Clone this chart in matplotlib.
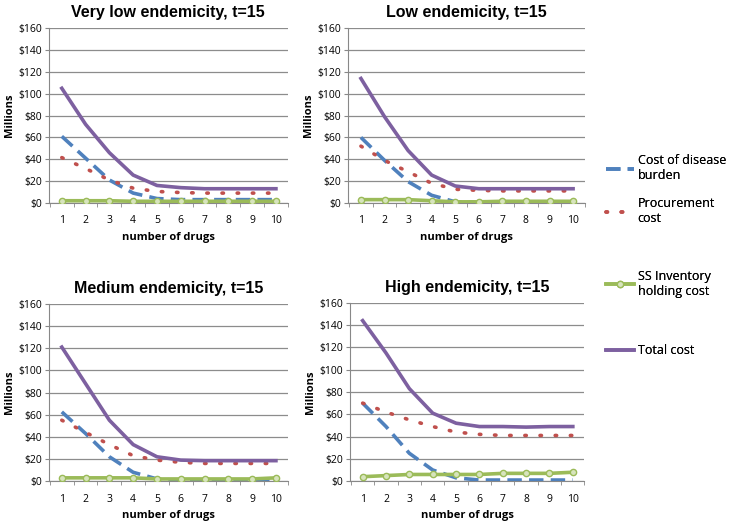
import matplotlib.pyplot as plt
import numpy as np

plt.rcParams['font.family'] = ['Open Sans', 'DejaVu Sans']

drugs = [1, 2, 3, 4, 5, 6, 7, 8, 9, 10]

titles = ['Very low endemicity, t=15', 'Low endemicity, t=15',
          'Medium endemicity, t=15', 'High endemicity, t=15']

# values in $ millions
disease = [
    [61, 41, 21, 9, 4, 3, 3, 3, 3, 3],
    [60, 39, 19.5, 7, 1, 0.5, 0.5, 0.5, 0.5, 0.5],
    [62.5, 43, 22, 8, 2, 0.5, 0.5, 0.5, 0.5, 0.5],
    [70, 49, 25, 10, 3, 1, 1, 1, 1, 1],
]
procurement = [
    [41.5, 31.5, 21, 13.5, 10.5, 9.5, 9, 9, 9, 9],
    [52, 39, 28.5, 18, 12.5, 11.5, 11, 11, 11, 11],
    [55, 44, 33, 23, 19, 17, 16, 16, 16, 16],
    [70, 62, 55, 49, 44, 42, 41, 41, 41, 41],
]
inventory = [
    [2, 2, 2, 1.5, 1.5, 1.5, 1.5, 1.5, 1.5, 1.5],
    [3, 3, 3, 2, 1, 1, 1.5, 1.5, 1.5, 1.5],
    [3, 3, 3, 3, 2, 2, 2, 2, 2, 3],
    [4, 5, 6, 6, 6, 6, 7, 7, 7, 8],
]
total = [
    [105, 72, 46, 25.5, 16, 14, 13, 13, 13, 13],
    [114, 79, 48, 25.5, 15.5, 13, 13, 13, 13, 13],
    [121, 88, 55, 33, 22, 19, 18.5, 18.5, 18.5, 18.5],
    [144, 115, 83, 61, 52, 49, 49, 48.5, 49, 49],
]

blue = '#4F81BD'
red = '#C0504D'
green = '#9BBB59'
purple = '#7D60A0'

fig = plt.figure(figsize=(7.38, 5.23), dpi=100)

# axes rectangles in figure fractions
rects = [
    [0.066, 0.612, 0.324, 0.334],
    [0.4715, 0.612, 0.321, 0.334],
    [0.066, 0.080, 0.324, 0.339],
    [0.474, 0.080, 0.318, 0.341],
]

lines = []
for i in range(4):
    ax = fig.add_axes(rects[i])
    l1, = ax.plot(drugs, disease[i], color=blue, lw=2.6, dashes=(4, 2),
                  label='Cost of disease\nburden', zorder=3)
    l2, = ax.plot(drugs, procurement[i], color=red, lw=2.6, linestyle=(0, (0.4, 3.8)),
                  dash_capstyle='round', label='Procurement\ncost', zorder=3)
    l3, = ax.plot(drugs, inventory[i], color=green, lw=2.6, marker='o', ms=4.5,
                  mfc='#D7E4BD', mec=green, mew=1,
                  label='SS Inventory\nholding cost', zorder=4)
    l4, = ax.plot(drugs, total[i], color=purple, lw=2.6, label='Total cost', zorder=3)
    lines = [l1, l2, l3, l4]

    ax.set_xlim(0.45, 10.5)
    ax.set_ylim(0, 160)
    ax.set_yticks(np.arange(0, 161, 20))
    ax.set_yticklabels(['$%d' % v for v in range(0, 161, 20)], fontsize=7.5)
    ax.set_xticks(drugs)
    ax.set_xticklabels([str(d) for d in drugs], fontsize=7.5)
    ax.set_xticks(np.arange(0.5, 11, 1), minor=True)
    ax.tick_params(axis='x', which='major', length=0, pad=9)
    ax.tick_params(axis='x', which='minor', length=3, color='#888888')
    ax.tick_params(axis='y', length=3, color='#888888', pad=2)
    ax.grid(axis='y', color='#8c8c8c', lw=0.9)
    ax.set_axisbelow(True)
    for s in ['top', 'right']:
        ax.spines[s].set_visible(False)
    ax.spines['left'].set_color('#888888')
    ax.spines['bottom'].set_color('#888888')
    ax.set_title(titles[i], fontsize=11.5, fontweight='bold', pad=8,
                 family=['Liberation Sans', 'DejaVu Sans'])
    ax.set_xlabel('number of drugs', fontsize=8, fontweight='bold', labelpad=4)
    ax.set_ylabel('Millions', fontsize=8, fontweight='bold', labelpad=2)

# legend entries are spaced unevenly in the original, one legend per entry
legend_y = [0.715, 0.632, 0.494, 0.352]
for line, y in zip(lines, legend_y):
    leg = fig.legend(handles=[line], loc='upper left', bbox_to_anchor=(0.815, y),
                     frameon=False, fontsize=9, handlelength=2.2, handletextpad=0.3,
                     borderaxespad=0)
    fig.add_artist(leg)

fig.savefig('out.png', dpi=100)
